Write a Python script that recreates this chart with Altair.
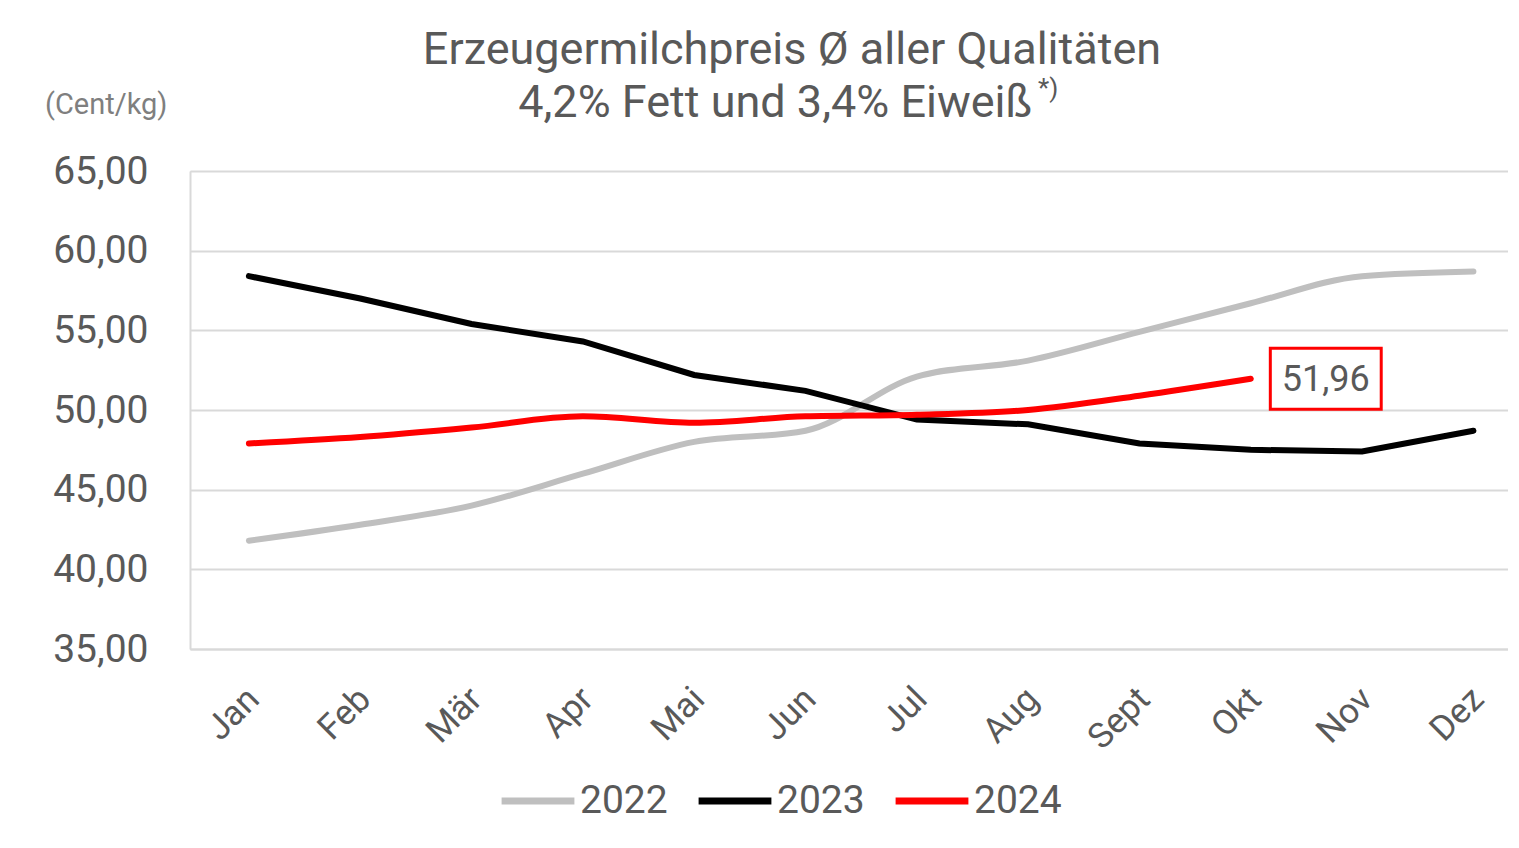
import altair as alt
import pandas as pd

months = ["Jan", "Feb", "Mär", "Apr", "Mai", "Jun", "Jul", "Aug", "Sept", "Okt", "Nov", "Dez"]
v2022 = [41.8, 42.8, 44.0, 46.0, 48.0, 48.7, 52.1, 53.1, 54.9, 56.7, 58.4, 58.7]
v2023 = [58.4, 57.0, 55.4, 54.3, 52.2, 51.2, 49.4, 49.1, 47.9, 47.5, 47.4, 48.7]
v2024 = [47.9, 48.3, 48.9, 49.6, 49.2, 49.6, 49.7, 50.0, 50.9, 51.96]
years = ["2022", "2023", "2024"]
y_ticks = [35, 40, 45, 50, 55, 60, 65]

rows = []
for yr, vals in zip(years, [v2022, v2023, v2024]):
    for m, v in zip(months, vals):
        rows.append({"Monat": m, "Jahr": yr, "Wert": v})
df = pd.DataFrame(rows)

TXT = "#595959"
GRID = "#d9d9d9"
FONT = "Roboto"

x_enc = alt.X("Monat:N", sort=months,
              scale=alt.Scale(type="point", padding=0.42, align=0.63),
              axis=alt.Axis(title=None, labelAngle=-45, labelFontSize=35, labelColor=TXT,
                            labelPadding=32, labelOffset=-8, ticks=False, domainColor=GRID,
                            domainWidth=2, grid=False, labelFont=FONT))
y_enc = alt.Y("Wert:Q", scale=alt.Scale(domain=[35, 65], nice=False, zero=False),
              axis=alt.Axis(title=None, values=y_ticks,
                            labelExpr="replace(format(datum.value, '.2f'), '.', ',')",
                            labelFontSize=39, labelColor=TXT, labelPadding=42, ticks=False,
                            domainColor=GRID, domainWidth=2, gridColor=GRID, gridWidth=2,
                            labelFont=FONT))
color_enc = alt.Color("Jahr:N",
                      scale=alt.Scale(domain=years, range=["#bfbfbf", "#000000", "#ff0000"]),
                      legend=alt.Legend(title=None, orient="none", legendX=308, legendY=590,
                                        direction="horizontal", symbolType="stroke",
                                        symbolSize=5300, symbolStrokeWidth=7,
                                        labelFontSize=39, labelColor=TXT, labelFont=FONT,
                                        labelOffset=2, columnPadding=16))

base = alt.Chart(df).encode(x=x_enc, y=y_enc, color=color_enc)

l2022 = base.transform_filter("datum.Jahr == '2022'").mark_line(
    strokeWidth=6, strokeCap="round", interpolate="monotone")
l2023 = base.transform_filter("datum.Jahr == '2023'").mark_line(
    strokeWidth=6, strokeCap="round", interpolate="linear")
l2024 = base.transform_filter("datum.Jahr == '2024'").mark_line(
    strokeWidth=6, strokeCap="round", interpolate="monotone")

last = alt.Chart(df).transform_filter(
    "datum.Jahr == '2024' && datum.Monat == 'Okt'").transform_calculate(
    label="replace(format(datum.Wert, '.2f'), '.', ',')")

box = last.mark_point(shape="M-1,-0.55L1,-0.55L1,0.55L-1,0.55Z", size=12300,
                      filled=False, stroke="#ff0000", strokeWidth=3, opacity=1,
                      xOffset=75).encode(x=alt.X("Monat:N", sort=months),
                                          y=alt.Y("Wert:Q"))
box_text = last.mark_text(fontSize=36, color=TXT, font=FONT, dx=75, dy=1,
                          align="center", baseline="middle").encode(
    x=alt.X("Monat:N", sort=months), y=alt.Y("Wert:Q"), text="label:N")

unit = alt.Chart(pd.DataFrame({"t": ["(Cent/kg)"]})).mark_text(
    fontSize=29, color="#7f7f7f", font=FONT, align="left", baseline="middle").encode(
    x=alt.value(-145), y=alt.value(-66), text="t:N")

footnote = alt.Chart(pd.DataFrame({"t": ["*)"]})).mark_text(
    fontSize=26, color=TXT, font=FONT, align="left", baseline="top").encode(
    x=alt.value(848), y=alt.value(-95), text="t:N")

chart = alt.layer(l2022, l2023, l2024, box, box_text, unit, footnote).properties(
    width=1318, height=478,
    padding={"left": 37, "top": 20, "right": 0, "bottom": 10},
    title=alt.TitleParams(
        text=["Erzeugermilchpreis Ø aller Qualitäten",
              "4,2% Fett und 3,4% Eiweiß\u00a0\u00a0\u00a0\u200b"],
        fontSize=45, font=FONT, fontWeight="normal", color=TXT, lineHeight=53,
        anchor="middle", dx=-57, offset=-50),
).configure_view(stroke=None).configure(background="white")

chart.save("out.html", embed_options={"renderer": "svg", "actions": False})
